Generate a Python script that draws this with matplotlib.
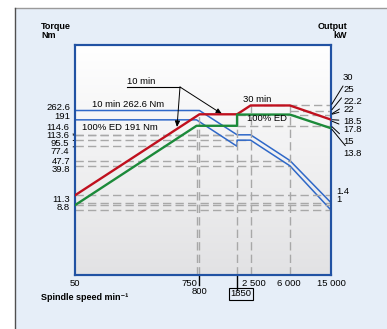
import numpy as np
import matplotlib
matplotlib.use("Agg")
import matplotlib.pyplot as plt
from matplotlib.patches import Rectangle
from matplotlib.lines import Line2D
from matplotlib.colors import LinearSegmentedColormap

plt.rcParams["font.family"] = ["Liberation Sans", "DejaVu Sans"]

# Data
speed_10min = [50, 800, 1850, 2500, 6000, 15000]
torque_10min = [262.6, 262.6, 114.6, 114.6, 47.7, 11.3]
speed_ed = [50, 750, 1850, 1850, 2500, 6000, 15000]
torque_ed = [191, 191, 77.4, 95.5, 95.5, 39.8, 8.8]

speed_p10 = [50, 800, 1850, 2500, 6000, 15000]
power_10min = [1.4, 22.2, 22.2, 30, 30, 18.5]
speed_ped = [50, 750, 1850, 1850, 6000, 15000]
power_ed = [1, 15, 15, 22, 22, 13.8]

torque_labels = ["262.6", "191", "114.6", "113.6", "95.5", "77.4", "47.7", "39.8", "11.3", "8.8"]
power_labels = ["30", "25", "22.2", "22", "18.5", "17.8", "15", "13.8"]
power_low_labels = ["1.4", "1"]

# dashed guide lines: (value, x from, x to)
torque_guides = [(114.6, 50, 1850), (113.6, 50, 1850), (95.5, 50, 2500), (77.4, 50, 1850),
                 (47.7, 50, 6000), (39.8, 50, 6000), (11.3, 50, 15000), (8.8, 50, 15000)]
power_guides = [(30, 2500, 15000), (25, 6000, 15000), (22, 1850, 15000), (15, 1850, 15000),
                (1.4, 50, 15000), (1, 50, 15000)]
speed_guides = [(750, 15), (800, 22.2), (1850, 22), (2500, 30), (6000, 30)]

W, H = 387, 329
BLUE = "#2f68c8"
RED = "#c0101e"
GREEN = "#1c8a3a"
GRID = "#a8a8a8"
FRAME = "#2152a3"

fig = plt.figure(figsize=(W / 100, H / 100), dpi=100)
fig.patch.set_facecolor("white")


def fp(x, y):
    return (x / W, 1 - y / H)


# outer panel
fig.add_artist(Rectangle(fp(15, 340), 1, (340 - 8) / H, transform=fig.transFigure,
                         facecolor="#e6eef8", edgecolor="none", zorder=-10))
fig.add_artist(Line2D([15 / W, 1], [1 - 8 / H] * 2, transform=fig.transFigure, color="#9a9a9a", lw=1))
fig.add_artist(Line2D([15 / W] * 2, [0, 1 - 8 / H], transform=fig.transFigure, color="#505050", lw=1))

ax = fig.add_axes([75 / W, (H - 275) / H, 256 / W, 230 / H])
ax.set_xscale("log")
ax.set_yscale("log")

grad = np.linspace(1, 0, 256).reshape(-1, 1)
cmap = LinearSegmentedColormap.from_list("bg", ["#e2e2e4", "#ffffff"])
ax.imshow(grad, extent=[0, 1, 0, 1], transform=ax.transAxes, aspect="auto",
          cmap=cmap, zorder=0)

ax.set_xlim(50, 15000)
ax.set_ylim(0.96, 2454)

ax2 = ax.twinx()
ax2.set_yscale("log")
ax2.set_ylim(0.0924, 236)
ax2.set_xlim(50, 15000)

for a in (ax, ax2):
    a.set_xticks([])
    a.set_yticks([])
    a.minorticks_off()
    a.tick_params(which="both", length=0, labelleft=False, labelright=False, labelbottom=False)
    for s in a.spines.values():
        s.set_color(FRAME)
        s.set_linewidth(1.5)

dash = dict(color=GRID, lw=1, ls=(0, (6, 3)), zorder=1)
for val, x0, x1 in torque_guides:
    ax.plot([x0, x1], [val, val], **dash)
for val, x0, x1 in power_guides:
    ax2.plot([x0, x1], [val, val], **dash)
for x, top in speed_guides:
    ax2.plot([x, x], [0.0924, top], **dash)

ax.plot(speed_10min, torque_10min, color=BLUE, lw=1.1, zorder=3)
ax.plot(speed_ed, torque_ed, color=BLUE, lw=1.1, zorder=3)
ax2.plot(speed_p10, power_10min, color=RED, lw=1.7, zorder=4)
ax2.plot(speed_ped, power_ed, color=GREEN, lw=1.7, zorder=4)

fs = 6.8

# titles
fig.text(*fp(41, 31), "Torque\nNm", fontsize=6.5, fontweight="bold", va="center", ha="left",
         linespacing=1.0)
fig.text(*fp(347, 31), "Output\nkW", fontsize=6.5, fontweight="bold", va="center", ha="right",
         multialignment="right", linespacing=1.0)
fig.text(*fp(41, 298), "Spindle speed min⁻¹", fontsize=6.5, fontweight="bold", va="center", ha="left")

# x labels
fig.text(*fp(75, 283), "50", fontsize=fs, ha="center", va="center")
fig.text(*fp(197, 283), "750", fontsize=fs, ha="right", va="center")
fig.text(*fp(199.5, 292), "800", fontsize=fs, ha="center", va="center")
fig.text(*fp(254, 283), "2 500", fontsize=fs, ha="center", va="center")
fig.text(*fp(289, 283), "6 000", fontsize=fs, ha="center", va="center")
fig.text(*fp(331, 283), "15 000", fontsize=fs, ha="center", va="center")
fig.text(*fp(241, 294), "1850", fontsize=fs, ha="center", va="center",
         bbox=dict(boxstyle="square,pad=0.12", fc="none", ec="black", lw=0.8))
ax.plot([800, 800], [0, -0.045], transform=ax.get_xaxis_transform(), color="black", lw=1, clip_on=False)
ax.plot([1850, 1850], [0, -0.065], transform=ax.get_xaxis_transform(), color="black", lw=1, clip_on=False)

# left labels
left_y = [107.5, 116.5, 127, 135, 143, 151, 161.5, 170, 199, 207.5]
leader_left = {"114.6", "113.6", "95.5", "77.4"}
for lab, ly, val in zip(torque_labels, left_y,
                        [262.6, 191, 114.6, 113.6, 95.5, 77.4, 47.7, 39.8, 11.3, 8.8]):
    if lab in leader_left:
        ax.annotate(lab, xy=(50, val), xycoords="data", xytext=(69, H - ly),
                    textcoords="figure pixels", fontsize=fs, ha="right", va="center",
                    arrowprops=dict(arrowstyle="-", color="black", lw=0.7, shrinkA=1, shrinkB=1),
                    annotation_clip=False)
    else:
        fig.text(*fp(70, ly), lab, fontsize=fs, ha="right", va="center")

# right labels
right_y = [77.5, 89.5, 101, 109.5, 121, 129.5, 142, 154]
for lab, ry in zip(power_labels, right_y):
    ax2.annotate(lab, xy=(15000, float(lab)), xycoords="data", xytext=(343, H - ry),
                 textcoords="figure pixels", fontsize=fs, ha="left", va="center",
                 arrowprops=dict(arrowstyle="-", color="black", lw=0.7, shrinkA=1, shrinkB=1),
                 annotation_clip=False)
fig.text(*fp(336, 192), power_low_labels[0], fontsize=fs, ha="left", va="center")
fig.text(*fp(336, 200), power_low_labels[1], fontsize=fs, ha="left", va="center")

# in-plot notes
fig.text(*fp(92, 104), "10 min 262.6 Nm", fontsize=fs, ha="left", va="center")
fig.text(*fp(82, 127), "100% ED 191 Nm", fontsize=fs, ha="left", va="center")
fig.text(*fp(243, 100), "30 min", fontsize=fs, ha="left", va="center")
fig.text(*fp(267, 118.5), "100% ED", fontsize=fs, ha="center", va="center")
fig.text(*fp(127, 81), "10 min", fontsize=fs, ha="left", va="center")
fig.add_artist(Line2D([127 / W, 180 / W], [1 - 87 / H] * 2, transform=fig.transFigure,
                      color="black", lw=0.8))
for tx, ty in [(177, 127), (222, 114)]:
    ax.annotate("", xy=(tx, H - ty), xycoords="figure pixels", xytext=(180, H - 87),
                textcoords="figure pixels",
                arrowprops=dict(arrowstyle="-|>,head_length=0.35,head_width=0.15",
                                color="black", lw=0.7, shrinkA=0, shrinkB=0))

fig.savefig("out.png", dpi=100)
